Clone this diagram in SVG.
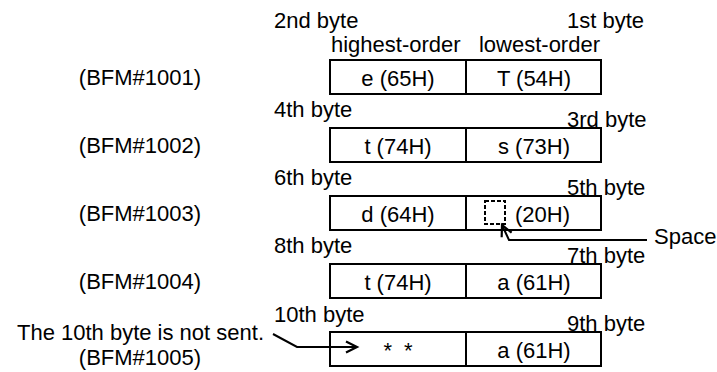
<svg xmlns="http://www.w3.org/2000/svg" width="717" height="372" viewBox="0 0 717 372">
<style>
text{font-family:"Liberation Sans",Arial,sans-serif;font-size:22px;fill:#000}
.m{text-anchor:middle}
.e{text-anchor:end}
.box{fill:#fff;stroke:#000;stroke-width:2}
.div{stroke:#000;stroke-width:2}
.ln{fill:none;stroke:#000;stroke-width:2}
</style>
<defs>
<marker id="ah" viewBox="0 0 10 10" refX="10" refY="5" markerWidth="11" markerHeight="11" markerUnits="userSpaceOnUse" orient="auto" overflow="visible">
<path d="M0,0 L10,5 L0,10" fill="none" stroke="#000" stroke-width="2"/>
</marker>
</defs>
<g id="header">
<text x="274" y="28">2nd byte</text>
<text x="567" y="28">1st byte</text>
<text x="331" y="52">highest-order</text>
<text x="600" y="52" class="e">lowest-order</text>
</g>
<g id="row1">
<text x="140" y="85" class="m">(BFM#1001)</text>
<rect class="box" x="330" y="60" width="271" height="34"/>
<line class="div" x1="466" y1="60" x2="466" y2="94"/>
<text x="398" y="86" class="m">e (65H)</text>
<text x="534" y="86" class="m">T (54H)</text>
</g>
<g id="row2">
<text x="274" y="117">4th byte</text>
<text x="567" y="127">3rd byte</text>
<text x="140" y="153" class="m">(BFM#1002)</text>
<rect class="box" x="330" y="128" width="271" height="34"/>
<line class="div" x1="466" y1="128" x2="466" y2="162"/>
<text x="398" y="154" class="m">t (74H)</text>
<text x="534" y="154" class="m">s (73H)</text>
</g>
<g id="row3">
<text x="274" y="185">6th byte</text>
<text x="567" y="195">5th byte</text>
<text x="140" y="221" class="m">(BFM#1003)</text>
<rect class="box" x="330" y="196" width="271" height="34"/>
<line class="div" x1="466" y1="196" x2="466" y2="230"/>
<text x="398" y="222" class="m">d (64H)</text>
<rect x="485" y="201" width="20" height="23" fill="none" stroke="#000" stroke-width="2" stroke-dasharray="4 2"/>
<text x="515" y="222">(20H)</text>
</g>
<g id="space-label">
<text x="654" y="244">Space</text>
</g>
<g id="row4">
<text x="274" y="253">8th byte</text>
<text x="567" y="263">7th byte</text>
<text x="140" y="289" class="m">(BFM#1004)</text>
<rect class="box" x="330" y="264" width="271" height="34"/>
<line class="div" x1="466" y1="264" x2="466" y2="298"/>
<text x="398" y="290" class="m">t (74H)</text>
<text x="534" y="290" class="m">a (61H)</text>
</g>
<g id="row5">
<text x="274" y="322">10th byte</text>
<text x="567" y="331">9th byte</text>
<text x="264" y="340" class="e">The 10th byte is not sent.</text>
<text x="140" y="365" class="m">(BFM#1005)</text>
<rect class="box" x="330" y="332" width="271" height="34"/>
<line class="div" x1="466" y1="332" x2="466" y2="366"/>
<text x="398" y="358" class="m" word-spacing="6">* *</text>
<text x="534" y="358" class="m">a (61H)</text>
</g>
<g id="connectors">
<polyline class="ln" points="647,240 509,240 502,225" marker-end="url(#ah)"/>
<polyline class="ln" points="273,334 297,347 357,347" marker-end="url(#ah)"/>
</g>
</svg>
